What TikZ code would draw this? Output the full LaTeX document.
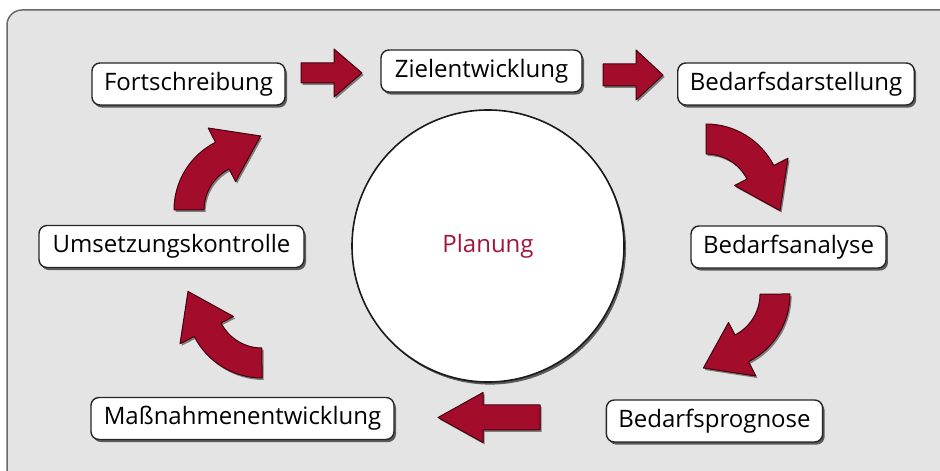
\documentclass[tikz,border=0pt]{standalone}
\usepackage{fontspec}
\setmainfont{Open Sans}
\usetikzlibrary{shadows}
\definecolor{bgfill}{RGB}{228,228,228}
\definecolor{bgline}{RGB}{105,105,105}
\definecolor{arrowred}{RGB}{163,12,42}
\definecolor{arrowdark}{RGB}{70,0,12}
\definecolor{planred}{RGB}{163,22,59}
\tikzset{
  stepbox/.style={draw=black!85, line width=0.7pt, fill=white, rounded corners=4pt,
    minimum height=21pt, inner xsep=6pt, font=\fontsize{12}{14}\selectfont,
    drop shadow={shadow xshift=1pt, shadow yshift=-1.3pt, opacity=0.6, fill=black}},
  blockarrow/.style={fill=arrowred, draw=arrowdark, line width=0.5pt, line join=round},
  arrowshadow/.style={fill=black, opacity=0.45},
  curvy/.pic={\path[pic actions] (-15,0) arc[start angle=180, end angle=117, radius=76]
      -- (19.2,82) -- (71.6,74) -- (46.5,28.5) -- (40.1,41)
      arc[start angle=117, end angle=180, radius=46] -- cycle;},
}
\begin{document}
\begin{tikzpicture}[x=0.5pt,y=0.5pt]
\useasboundingbox (0,0) rectangle (940,470);
% background panel
\begin{scope}
  \clip (0,0) rectangle (940,470);
  \draw[fill=bgfill, draw=bgline, line width=0.75pt, rounded corners=7.5pt] (7,-30) rectangle (975,460);
\end{scope}

% central circle
\node[circle, draw=black!90, line width=0.8pt, fill=white, minimum size=136pt,
  text=planred, font=\fontsize{12}{14}\selectfont,
  drop shadow={shadow xshift=1pt, shadow yshift=-1.3pt, opacity=0.6, fill=black}] (plan) at (488,224) {Planung};

% step boxes
\node[stepbox, minimum width=96.5pt]  (fort)  at (188.5,386) {Fortschreibung};
\node[stepbox, minimum width=100.5pt] (ziel)  at (481.5,399) {Zielentwicklung};
\node[stepbox, minimum width=117pt]   (darst) at (796,386)   {Bedarfsdarstellung};
\node[stepbox, minimum width=96.5pt]  (anal)  at (788.5,223) {Bedarfsanalyse};
\node[stepbox, minimum width=106.5pt] (prog)  at (714.5,49)  {Bedarfsprognose};
\node[stepbox, minimum width=151.5pt] (mass)  at (242.5,51.5) {Maßnahmenentwicklung};
\node[stepbox, minimum width=132.5pt] (umse)  at (171.5,223.5) {Umsetzungskontrolle};

% straight block arrows (shadow first)
\fill[arrowshadow] (302.6,385) -- (335.6,385) -- (335.6,371) -- (363.6,395) -- (335.6,419) -- (335.6,405) -- (302.6,405) -- cycle;
\path[blockarrow] (301,387) -- (334,387) -- (334,373) -- (362,397) -- (334,421) -- (334,407) -- (301,407) -- cycle;

\fill[arrowshadow] (604.6,382) -- (637.6,382) -- (637.6,368) -- (664.6,393) -- (637.6,418) -- (637.6,404) -- (604.6,404) -- cycle;
\path[blockarrow] (603,384) -- (636,384) -- (636,370) -- (663,395) -- (636,420) -- (636,406) -- (603,406) -- cycle;

\fill[arrowshadow] (541.6,38) -- (484.6,38) -- (484.6,25.5) -- (439.6,50.5) -- (484.6,75.5) -- (484.6,63) -- (541.6,63) -- cycle;
\path[blockarrow] (540,40) -- (483,40) -- (483,27.5) -- (438,52.5) -- (483,77.5) -- (483,65) -- (540,65) -- cycle;

% curved block arrows (shadow first)
\pic[arrowshadow] at (190.6,258) {curvy};
\pic[blockarrow] at (189,260) {curvy};

\pic[arrowshadow, rotate=-90] at (707.6,329) {curvy};
\pic[blockarrow, rotate=-90] at (706,331) {curvy};

\pic[arrowshadow, rotate=180] at (776.6,174) {curvy};
\pic[blockarrow, rotate=180] at (775,176) {curvy};

\pic[arrowshadow, rotate=90] at (263.6,105) {curvy};
\pic[blockarrow, rotate=90] at (262,107) {curvy};
\end{tikzpicture}
\end{document}
